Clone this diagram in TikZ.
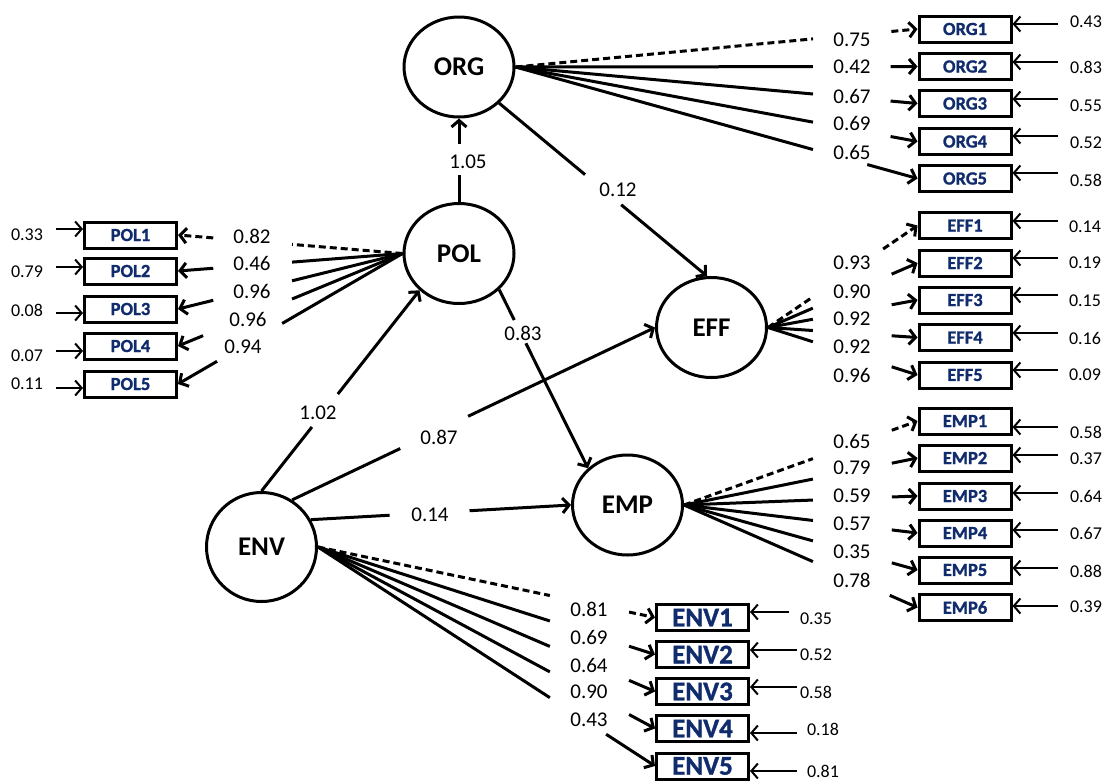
\documentclass[tikz,border=0pt]{standalone}
\usepackage{fontspec}
\setmainfont{Carlito}
\newfontfamily\heavyfont[FakeBold=1.2]{Carlito Bold}
\usetikzlibrary{shapes.geometric,arrows.meta,calc}
\definecolor{boxblue}{RGB}{16,44,108}
\newcommand\loadline[5][]{%
  \draw[ln,#1] (#2) -- ($(#2)!#4!(#3)$);
  \draw[ln,arr,#1] ($(#2)!#5!(#3)$) -- (#3);}
\newcommand\gapline[4]{%
  \draw[ln] (#1) -- ($(#1)!#3!(#2)$);
  \draw[ln,arr] ($(#1)!#4!(#2)$) -- (#2);}
\newcommand\resarrow[7]{% node, anchor, x, y, label, lx, ly
  \coordinate (r#1) at (#3,#4);
  \draw[res] (r#1) -- (r#1 -| #1.#2);
  \node[resl] (l#1) at (#6,#7) {#5};}
\begin{document}
\begin{tikzpicture}[x=1pt,y=-1pt,
  lat/.style={ellipse,draw,line width=3pt,minimum width=110pt,minimum height=100pt,inner sep=0pt,font=\fontsize{27}{30}\selectfont\bfseries},
  ind/.style={rectangle,draw,line width=3pt,minimum width=92pt,minimum height=26pt,inner sep=0pt,text=boxblue,font=\fontsize{18.5}{20}\heavyfont},
  indbig/.style={ind,font=\fontsize{27}{30}\heavyfont},
  coef/.style={inner sep=0pt,font=\fontsize{21}{24}\selectfont},
  resl/.style={inner sep=0pt,font=\fontsize{18}{20}\selectfont},
  arr/.style={-{Straight Barb[length=6.5pt,width=15pt]}},
  ln/.style={line width=3pt},
  dsh/.style={dash pattern=on 7pt off 4pt},
  res/.style={line width=2pt,arr},
]
\useasboundingbox (0,0) rectangle (1105,782);
% latent variables
\node[lat] (ORG) at (459,67) {ORG};
\node[lat] (POL) at (459,253.5) {POL};
\node[lat] (EFF) at (711.5,327.5) {EFF};
\node[lat] (EMP) at (627.5,505) {EMP};
\node[lat,minimum height=109pt] (ENV) at (261.5,547) {ENV};
% indicators
\node[ind] (ORG1) at (965,29) {ORG1};
\node[ind] (ORG2) at (965,66.5) {ORG2};
\node[ind] (ORG3) at (965,103.5) {ORG3};
\node[ind] (ORG4) at (965,141.5) {ORG4};
\node[ind] (ORG5) at (965,178.5) {ORG5};
\node[ind] (EFF1) at (965,225.5) {EFF1};
\node[ind] (EFF2) at (965,263) {EFF2};
\node[ind] (EFF3) at (965,300) {EFF3};
\node[ind] (EFF4) at (965,337.5) {EFF4};
\node[ind] (EFF5) at (965,375) {EFF5};
\node[ind] (EMP1) at (965,421) {EMP1};
\node[ind] (EMP2) at (965,458) {EMP2};
\node[ind] (EMP3) at (965,496) {EMP3};
\node[ind] (EMP4) at (965,533) {EMP4};
\node[ind] (EMP5) at (965,570) {EMP5};
\node[ind] (EMP6) at (965,607.5) {EMP6};
\node[ind] (POL1) at (130.5,235) {POL1};
\node[ind] (POL2) at (130.5,271) {POL2};
\node[ind] (POL3) at (130.5,309) {POL3};
\node[ind] (POL4) at (130.5,346) {POL4};
\node[ind] (POL5) at (130.5,384) {POL5};
\node[indbig] (ENV1) at (702.5,617.5) {ENV1};
\node[indbig] (ENV2) at (702.5,654.5) {ENV2};
\node[indbig] (ENV3) at (702.5,691.5) {ENV3};
\node[indbig] (ENV4) at (702.5,728.5) {ENV4};
\node[indbig] (ENV5) at (702.5,766) {ENV5};
% loadings ORG
\loadline[dsh]{ORG.east}{ORG1.west}{0.74}{0.935}
\loadline{ORG.east}{ORG2.west}{0.74}{0.933}
\loadline{ORG.east}{ORG3.west}{0.74}{0.933}
\loadline{ORG.east}{ORG4.west}{0.74}{0.933}
\loadline{ORG.east}{ORG5.west}{0.74}{0.875}
\node[coef] (cO1) at (852,40) {0.75};
\node[coef] (cO2) at (852,67) {0.42};
\node[coef] (cO3) at (852,96) {0.67};
\node[coef] (cO4) at (852,123) {0.69};
\node[coef] (cO5) at (852,152) {0.65};
% loadings EFF
\loadline[dsh]{EFF.east}{EFF1.west}{0.30}{0.77}
\loadline{EFF.east}{EFF2.west}{0.30}{0.827}
\loadline{EFF.east}{EFF3.west}{0.30}{0.827}
\loadline{EFF.east}{EFF4.west}{0.30}{0.827}
\loadline{EFF.east}{EFF5.west}{0.30}{0.827}
\node[coef] (cF1) at (852,263) {0.93};
\node[coef] (cF2) at (852,292) {0.90};
\node[coef] (cF3) at (852,319) {0.92};
\node[coef] (cF4) at (852,347) {0.92};
\node[coef] (cF5) at (852,375) {0.96};
% loadings EMP
\loadline[dsh]{EMP.east}{EMP1.west}{0.552}{0.89}
\loadline{EMP.east}{EMP2.west}{0.552}{0.89}
\loadline{EMP.east}{EMP3.west}{0.552}{0.89}
\loadline{EMP.east}{EMP4.west}{0.552}{0.89}
\loadline{EMP.east}{EMP5.west}{0.552}{0.89}
\loadline{EMP.east}{EMP6.west}{0.552}{0.881}
\node[coef] (cM1) at (852,441) {0.65};
\node[coef] (cM2) at (852,468) {0.79};
\node[coef] (cM3) at (852,496) {0.59};
\node[coef] (cM4) at (852,524) {0.57};
\node[coef] (cM5) at (852,552) {0.35};
\node[coef] (cM6) at (852,580) {0.78};
% loadings POL
\loadline[dsh]{POL.west}{POL1.east}{0.492}{0.843}
\loadline{POL.west}{POL2.east}{0.492}{0.843}
\loadline{POL.west}{POL3.east}{0.492}{0.843}
\loadline{POL.west}{POL4.east}{0.492}{0.888}
\loadline{POL.west}{POL5.east}{0.536}{0.826}
\node[coef] (cP1) at (252,236) {0.82};
\node[coef] (cP2) at (252,263) {0.46};
\node[coef] (cP3) at (252,291) {0.96};
\node[coef] (cP4) at (248,319) {0.96};
\node[coef] (cP5) at (243,347) {0.94};
% loadings ENV
\loadline[dsh]{ENV.east}{ENV1.west}{0.688}{0.923}
\loadline{ENV.east}{ENV2.west}{0.688}{0.923}
\loadline{ENV.east}{ENV3.west}{0.688}{0.923}
\loadline{ENV.east}{ENV4.west}{0.688}{0.923}
\loadline{ENV.east}{ENV5.west}{0.688}{0.855}
\node[coef] (cV1) at (589,609) {0.81};
\node[coef] (cV2) at (589,637) {0.69};
\node[coef] (cV3) at (589,665) {0.64};
\node[coef] (cV4) at (589,692) {0.90};
\node[coef] (cV5) at (589,720) {0.43};
% structural paths
\gapline{POL.north}{ORG.south}{0.323}{0.694}
\node[coef] (s1) at (468,162) {1.05};
\gapline{ORG.-42}{EFF.95}{0.413}{0.587}
\node[coef] (s2) at (618,190) {0.12};
\gapline{POL.-42}{EMP.137}{0.17}{0.30}
\node[coef] (s3) at (523,333) {0.83};
\gapline{ENV.north}{POL.223.6}{0.319}{0.483}
\node[coef] (s4) at (318,413) {1.02};
\gapline{ENV.57}{EFF.west}{0.298}{0.485}
\node[coef] (s5) at (439,437) {0.87};
\gapline{ENV.29}{EMP.west}{0.303}{0.61}
\node[coef] (s6) at (430,515) {0.14};
% residuals
\resarrow{ORG1}{east}{1058}{24}{0.43}{1086}{22}
\resarrow{ORG2}{east}{1058}{62}{0.83}{1086}{67}
\resarrow{ORG3}{east}{1058}{99}{0.55}{1086}{106}
\resarrow{ORG4}{east}{1058}{136}{0.52}{1086}{143}
\resarrow{ORG5}{east}{1058}{173}{0.58}{1086}{180}
\resarrow{EFF1}{east}{1058}{221}{0.14}{1085}{227}
\resarrow{EFF2}{east}{1058}{258}{0.19}{1085}{263}
\resarrow{EFF3}{east}{1058}{295}{0.15}{1085}{301}
\resarrow{EFF4}{east}{1058}{333}{0.16}{1085}{338}
\resarrow{EFF5}{east}{1058}{370}{0.09}{1085}{375}
\resarrow{EMP1}{east}{1058}{427}{0.58}{1086}{432}
\resarrow{EMP2}{east}{1058}{455}{0.37}{1086}{459}
\resarrow{EMP3}{east}{1058}{493}{0.64}{1086}{496}
\resarrow{EMP4}{east}{1058}{530}{0.67}{1086}{533}
\resarrow{EMP5}{east}{1058}{568}{0.88}{1086}{571}
\resarrow{EMP6}{east}{1058}{606}{0.39}{1086}{607}
\resarrow{POL1}{west}{56}{229}{0.33}{27}{235}
\resarrow{POL2}{west}{56}{267}{0.79}{27}{272}
\resarrow{POL3}{west}{56}{313}{0.08}{27}{310}
\resarrow{POL4}{west}{56}{351}{0.07}{27}{356}
\resarrow{POL5}{west}{56}{388}{0.11}{27}{384}
\resarrow{ENV1}{east}{789}{612}{0.35}{816}{619}
\resarrow{ENV2}{east}{797}{650}{0.52}{816}{655}
\resarrow{ENV3}{east}{797}{687}{0.58}{816}{692}
\resarrow{ENV4}{east}{797}{733}{0.18}{823}{729}
\resarrow{ENV5}{east}{797}{771}{0.81}{823}{771}
\end{tikzpicture}
\end{document}
